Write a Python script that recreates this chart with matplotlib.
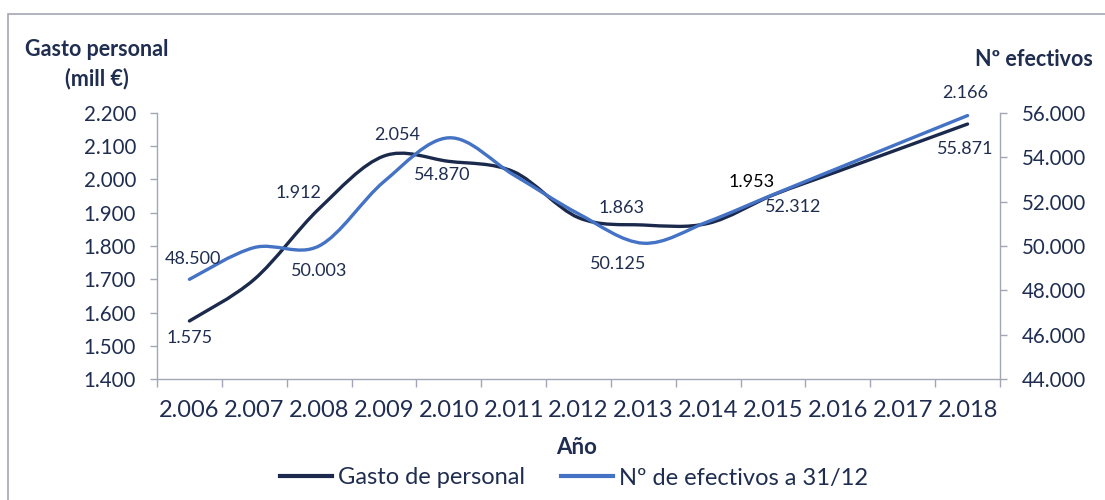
import numpy as np
import matplotlib
matplotlib.use("Agg")
import matplotlib.pyplot as plt
from matplotlib.path import Path
from matplotlib.patches import PathPatch, Rectangle
from matplotlib.lines import Line2D
from matplotlib.ticker import FixedLocator, FuncFormatter

# ---------------- data ----------------
years = ["2.006", "2.007", "2.008", "2.009", "2.010", "2.011", "2.012",
         "2.013", "2.014", "2.015", "2.016", "2.017", "2.018"]
gasto = [1.575, 1.700, 1.912, 2.070, 2.054, 2.023, 1.885,
         1.863, 1.868, 1.953, 2.024, 2.095, 2.166]
efectivos = [48.500, 49.930, 50.003, 52.900, 54.870, 53.200, 51.450,
             50.125, 51.100, 52.312, 53.500, 54.690, 55.871]
gasto_labels = {0: "1.575", 2: "1.912", 4: "2.054", 7: "1.863", 9: "1.953", 12: "2.166"}
efect_labels = {0: "48.500", 2: "50.003", 4: "54.870", 7: "50.125", 9: "52.312", 12: "55.871"}
left_ticks = [1.4, 1.5, 1.6, 1.7, 1.8, 1.9, 2.0, 2.1, 2.2]
right_ticks = [44, 46, 48, 50, 52, 54, 56]

# ---------------- style ----------------
FONT = "Lato"
NAVY = "#1F2D50"
DARK = "#1B2A4C"
BLUE = "#4472C4"
GRID = "#A3A7B3"

plt.rcParams["font.family"] = [FONT, "DejaVu Sans"]

W, H = 1105, 500
fig = plt.figure(figsize=(W / 100, H / 100), dpi=100)

# outer frame
fig.patches.append(Rectangle((8 / W, -0.1), 1.2, 1 - 14 / H + 0.1,
                             transform=fig.transFigure, fill=False,
                             edgecolor=GRID, linewidth=1.2))

x0, x1, ytop, ybot = 157, 1000, 112.7, 379.3
ax = fig.add_axes([x0 / W, 1 - ybot / H, (x1 - x0) / W, (ybot - ytop) / H])
ax2 = ax.twinx()
ax.patch.set_visible(False)

def smooth_path(xs, ys):
    pts = np.column_stack([xs, ys]).astype(float)
    n = len(pts)
    verts = [pts[0]]
    codes = [Path.MOVETO]
    for i in range(n - 1):
        p0 = pts[max(i - 1, 0)]
        p1 = pts[i]
        p2 = pts[i + 1]
        p3 = pts[min(i + 2, n - 1)]
        c1 = p1 + (p2 - p0) / 6.0
        c2 = p2 - (p3 - p1) / 6.0
        verts += [c1, c2, p2]
        codes += [Path.CURVE4] * 3
    return Path(verts, codes)

xs = np.arange(len(years))
ax.add_patch(PathPatch(smooth_path(xs, gasto), fill=False, edgecolor=DARK,
                       linewidth=2.4, capstyle="round", joinstyle="round"))
ax2.add_patch(PathPatch(smooth_path(xs, efectivos), fill=False, edgecolor=BLUE,
                        linewidth=2.4, capstyle="round", joinstyle="round"))

ax.set_xlim(-0.5, len(years) - 0.5)
ax.set_ylim(1.4, 2.2)
ax2.set_ylim(44, 56)

# axes styling
for a in (ax, ax2):
    for s in a.spines.values():
        s.set_color(GRID)
        s.set_linewidth(1.0)
    a.spines["top"].set_visible(False)
ax.spines["right"].set_visible(False)
ax2.spines["left"].set_visible(False)
ax2.spines["bottom"].set_visible(False)

fmt = lambda v, p: f"{v:.3f}"
ax.yaxis.set_major_locator(FixedLocator(left_ticks))
ax.yaxis.set_major_formatter(FuncFormatter(fmt))
ax2.yaxis.set_major_locator(FixedLocator(right_ticks))
ax2.yaxis.set_major_formatter(FuncFormatter(lambda v, p: f"{v:.3f}"))

ax.tick_params(axis="y", direction="out", length=5, width=1, color=GRID,
               labelsize=14.8, labelcolor=NAVY, pad=10)
ax2.tick_params(axis="y", direction="out", length=5, width=1, color=GRID,
                labelsize=14.8, labelcolor=NAVY, pad=11)

ax.xaxis.set_major_locator(FixedLocator(np.arange(-0.5, len(years), 1.0)))
ax.xaxis.set_major_formatter(FuncFormatter(lambda v, p: ""))
ax.xaxis.set_minor_locator(FixedLocator(xs))
ax.set_xticklabels(years, minor=True)
ax.tick_params(axis="x", which="major", direction="out", length=6, width=1, color=GRID)
ax.tick_params(axis="x", which="minor", length=0, labelsize=17, labelcolor=NAVY, pad=15)

# data labels
g_off = {0: (0, -17), 2: (-21, 16), 4: (-52, 26), 7: (-22, 17), 9: (-21, 13), 12: (-2, 31)}
e_off = {0: (4, 20), 2: (0, -25), 4: (-7, -37), 7: (-25, -21), 9: (20, -12), 12: (-2, -33)}
for i, txt in gasto_labels.items():
    ax.annotate(txt, (xs[i], gasto[i]), xytext=g_off[i], textcoords="offset pixels",
                ha="center", va="center", fontsize=13,
                color=("#000000" if i == 9 else NAVY))
for i, txt in efect_labels.items():
    ax2.annotate(txt, (xs[i], efectivos[i]), xytext=e_off[i], textcoords="offset pixels",
                 ha="center", va="center", fontsize=13, color=NAVY)

# titles
fig.text(97 / W, 1 - 50 / H, "Gasto personal", ha="center", va="center",
         fontsize=15.5, fontweight="bold", color=NAVY)
fig.text(97 / W, 1 - 79 / H, "(mill €)", ha="center", va="center",
         fontsize=15.5, fontweight="bold", color=NAVY)
fig.text(1093 / W, 1 - 60 / H, "Nº efectivos", ha="right", va="center",
         fontsize=15.5, fontweight="bold", color=NAVY)
fig.text(577 / W, 1 - 447 / H, "Año", ha="center", va="center",
         fontsize=16, fontweight="bold", color=NAVY)

# legend
handles = [Line2D([], [], color=DARK, linewidth=3),
           Line2D([], [], color=BLUE, linewidth=3)]
leg = fig.legend(handles, ["Gasto de personal", "Nº de efectivos a 31/12"],
                 loc="center", bbox_to_anchor=(574 / W, 1 - 478 / H), ncol=2,
                 frameon=False, fontsize=17, handlelength=2.2, handletextpad=0.25,
                 columnspacing=1.5, borderpad=0, borderaxespad=0)
for t in leg.get_texts():
    t.set_color(NAVY)

fig.savefig("out.png", dpi=100)
